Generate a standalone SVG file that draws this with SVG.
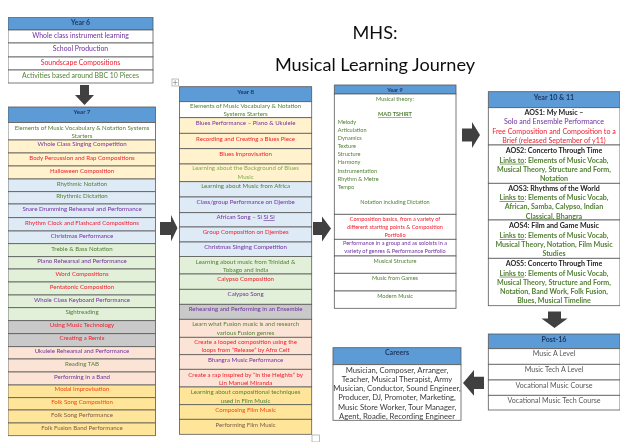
<svg xmlns="http://www.w3.org/2000/svg" width="630" height="447" viewBox="0 0 630 447">
<style>
text{font-family:Lato,"Open Sans","Liberation Sans",sans-serif;text-anchor:middle}
rect{stroke:#595959;stroke-width:.8}
.s7 text{font-size:6.1px}.s9 text{font-size:5.6px}.s6 text{font-size:6.9px}.s10 text{font-size:7.1px}.sc text{font-size:7.7px}
text.h{font-weight:700;fill:#1f3864}text.l{text-anchor:start}
text.b{font-weight:700;fill:#222}
.hd{fill:#5b9bd5}.w{fill:#fff}.o{fill:#fff2cc}.bl{fill:#deeaf6}.gn{fill:#e2efd9}.gy{fill:#c9c9c9}.pc{fill:#fbe4d5}.gd{fill:#ffe599}
text.p{fill:#7030a0}text.r{fill:#f01c2c}text.g{fill:#538135}text.lg{fill:#7fae4f}text.dr{fill:#ed4a10}text.br{fill:#7a5a4a}text.t{fill:#595959}text.k{fill:#3a3a3a}
.arrow{fill:#404040}
.title{font-size:18.1px;fill:#111}
.handle{fill:#fff;stroke:#a0a0a0;stroke-width:.7}
</style>
<defs><filter id="soft" x="0" y="0" width="100%" height="100%"><feGaussianBlur stdDeviation="0.3"/></filter></defs>
<g filter="url(#soft)">
<g id="title"><text class="title" x="375" y="38.500">MHS:</text><text class="title" x="375" y="71">Musical Learning Journey</text></g>

<g id="connectors" class="arrow">
<path d="M80 85H89V95H94L84.500 105L75 95H80Z"/>
<path d="M160 222H171V215L177.500 228L171 241.500V235H160Z"/>
<path d="M313 222H322V216.500L331 228.500L322 241.500V235H313Z"/>
<path d="M462 128.500H472V122L480 135L472 148V141.500H462Z"/>
<path d="M548 311.500H561V318.500H567.500L554.500 328L541.500 318.500H548Z"/>
<path d="M484 376.700H474V370L463 383L474 395.700V389H484Z"/>
</g>

<g id="year6" class="s6">
<rect class="hd" x="8" y="17" width="145" height="13"/>
<rect class="w" x="8" y="30" width="145" height="13"/><rect class="w" x="8" y="43" width="145" height="14"/><rect class="w" x="8" y="57" width="145" height="13"/><rect class="w" x="8" y="70" width="145" height="13"/>
<text class="h" x="80.500" y="25">Year 6</text>
<text class="p" x="80.500" y="38.200">Whole class instrument learning</text>
<text class="p" x="80.500" y="50.500">School Production</text>
<text class="r" x="80.500" y="65.200">Soundscape Compositions</text>
<text class="g" x="80.500" y="78">Activities based around BBC 10 Pieces</text>
</g>

<g id="year7" class="s7">
<rect class="hd" x="8" y="107" width="147.500" height="15.500"/>
<rect class="w" x="8" y="122.500" width="147.500" height="17.500"/>
<rect class="o" x="8" y="140" width="147.500" height="13"/><rect class="o" x="8" y="153" width="147.500" height="13"/><rect class="o" x="8" y="166" width="147.500" height="13"/>
<rect class="bl" x="8" y="179" width="147.500" height="12.700"/><rect class="bl" x="8" y="191.700" width="147.500" height="12.300"/><rect class="bl" x="8" y="204" width="147.500" height="13.700"/><rect class="bl" x="8" y="217.700" width="147.500" height="13.300"/><rect class="bl" x="8" y="231" width="147.500" height="12.700"/>
<rect class="gn" x="8" y="243.700" width="147.500" height="13"/><rect class="gn" x="8" y="256.700" width="147.500" height="12.300"/><rect class="gn" x="8" y="269" width="147.500" height="13"/><rect class="gn" x="8" y="282" width="147.500" height="13"/><rect class="gn" x="8" y="295" width="147.500" height="12.700"/><rect class="gn" x="8" y="307.700" width="147.500" height="13"/>
<rect class="gy" x="8" y="320.700" width="147.500" height="13"/><rect class="gy" x="8" y="333.700" width="147.500" height="13"/>
<rect class="pc" x="8" y="346.700" width="147.500" height="12.300"/><rect class="pc" x="8" y="359" width="147.500" height="13"/><rect class="pc" x="8" y="372" width="147.500" height="13"/>
<rect class="gd" x="8" y="385" width="147.500" height="12.700"/><rect class="gd" x="8" y="397.700" width="147.500" height="12.300"/><rect class="gd" x="8" y="410" width="147.500" height="13"/><rect class="gd" x="8" y="423" width="147.500" height="12.700"/>
<text class="h" x="82" y="114.300">Year 7</text>
<text class="g" x="82" y="129.700">Elements of Music Vocabulary &amp; Notation Systems</text>
<text class="g" x="82" y="137.700">Starters</text>
<text class="p" x="82" y="146.300">Whole Class Singing Competition</text>
<text class="r" x="82" y="159.700">Body Percussion and Rap Compositions</text>
<text class="r" x="82" y="172.700">Halloween Composition</text>
<text class="g" x="82" y="185.700">Rhythmic Notation</text>
<text class="g" x="82" y="198.300">Rhythmic Dictation</text>
<text class="p" x="82" y="211">Snare Drumming Rehearsal and Performance</text>
<text class="r" x="82" y="225">Rhythm Clock and Flashcard Compositions</text>
<text class="p" x="82" y="237.700">Christmas Performance</text>
<text class="g" x="82" y="250.700">Treble &amp; Bass Notation</text>
<text class="p" x="82" y="263.300">Piano Rehearsal and Performance</text>
<text class="r" x="82" y="276">Word Compositions</text>
<text class="r" x="82" y="288.700">Pentatonic Composition</text>
<text class="p" x="82" y="301.700">Whole Class Keyboard Performance</text>
<text class="g" x="82" y="314.300">Sightreading</text>
<text class="r" x="82" y="327">Using Music Technology</text>
<text class="r" x="82" y="340.300">Creating a Remix</text>
<text class="p" x="82" y="353.300">Ukulele Rehearsal and Performance</text>
<text class="g" x="82" y="366">Reading TAB</text>
<text class="p" x="82" y="378.700">Performing in a Band</text>
<text class="dr" x="82" y="391.300">Modal Improvisation</text>
<text class="dr" x="82" y="404.300">Folk Song Composition</text>
<text class="br" x="82" y="417">Folk Song Performance</text>
<text class="br" x="82" y="429.700">Folk Fusion Band Performance</text>
</g>

<g id="year8" class="s7">
<rect class="hd" x="179.500" y="86.700" width="132.200" height="15"/>
<rect class="w" x="179.500" y="101.700" width="132.200" height="16"/>
<rect class="o" x="179.500" y="117.700" width="132.200" height="15.600"/><rect class="o" x="179.500" y="133.300" width="132.200" height="15.400"/><rect class="o" x="179.500" y="148.700" width="132.200" height="15.300"/><rect class="o" x="179.500" y="164" width="132.200" height="17.700"/>
<rect class="bl" x="179.500" y="181.700" width="132.200" height="15.300"/><rect class="bl" x="179.500" y="197" width="132.200" height="15.700"/><rect class="bl" x="179.500" y="212.700" width="132.200" height="14.300"/><rect class="bl" x="179.500" y="227" width="132.200" height="15"/><rect class="bl" x="179.500" y="242" width="132.200" height="14.500"/>
<rect class="gn" x="179.500" y="256.500" width="132.200" height="17.500"/><rect class="gn" x="179.500" y="274" width="132.200" height="15.300"/><rect class="gn" x="179.500" y="289.300" width="132.200" height="15"/>
<rect class="gy" x="179.500" y="304.300" width="132.200" height="15"/>
<rect class="pc" x="179.500" y="319.300" width="132.200" height="18"/><rect class="pc" x="179.500" y="337.300" width="132.200" height="17.400"/><rect class="pc" x="179.500" y="354.700" width="132.200" height="14.600"/><rect class="pc" x="179.500" y="369.300" width="132.200" height="17.700"/>
<rect class="gd" x="179.500" y="387" width="132.200" height="17.700"/><rect class="gd" x="179.500" y="404.700" width="132.200" height="14.600"/><rect class="gd" x="179.500" y="419.300" width="132.200" height="15"/>
<text class="h" x="245.600" y="93.700">Year 8</text>
<text class="g" x="245.600" y="107.700">Elements of Music Vocabulary &amp; Notation</text>
<text class="g" x="245.600" y="115.700">Systems Starters</text>
<text class="p" x="245.600" y="124.700">Blues Performance – Piano &amp; Ukulele</text>
<text class="r" x="245.600" y="140.700">Recording and Creating a Blues Piece</text>
<text class="r" x="245.600" y="156">Blues Improvisation</text>
<text class="lg" x="245.600" y="170.300">Learning about the Background of Blues</text>
<text class="lg" x="245.600" y="179">Music</text>
<text class="g" x="245.600" y="188.300">Learning about Music from Africa</text>
<text class="p" x="245.600" y="204.300">Class/group Performance on Djembe</text>
<text class="p" x="245.600" y="219">African Song – Si <tspan text-decoration="underline">Si Si</tspan></text>
<text class="r" x="245.600" y="234">Group Composition on Djembes</text>
<text class="p" x="245.600" y="249">Christmas Singing Competition</text>
<text class="g" x="245.600" y="263.700">Learning about music from Trinidad &amp;</text>
<text class="g" x="245.600" y="272">Tobago and India</text>
<text class="r" x="245.600" y="281.300">Calypso Composition</text>
<text class="p" x="245.600" y="296.300">Calypso Song</text>
<text class="p" x="245.600" y="311">Rehearsing and Performing in an Ensemble</text>
<text class="g" x="245.600" y="326">Learn what Fusion music is and research</text>
<text class="g" x="245.600" y="334.700">various Fusion genres</text>
<text class="r" x="245.600" y="344">Create a looped composition using the</text>
<text class="r" x="245.600" y="352.300">loops from “Release” by Afro Celt</text>
<text class="p" x="245.600" y="361.700">Bhangra Music Performance</text>
<text class="r" x="245.600" y="376.700">Create a rap inspired by “In the Heights” by</text>
<text class="r" x="245.600" y="385">Lin Manuel Miranda</text>
<text class="g" x="245.600" y="394.300">Learning about compositional techniques</text>
<text class="g" x="245.600" y="402.700">used in Film Music</text>
<text class="dr" x="245.600" y="411.700">Composing Film Music</text>
<text class="br" x="245.600" y="426.700">Performing Film Music</text>
</g>

<g id="year9" class="s9">
<rect class="hd" x="334.300" y="85" width="121.700" height="9"/>
<rect class="w" x="334.300" y="94" width="121.700" height="120.300"/><rect class="w" x="334.300" y="214.300" width="121.700" height="25"/><rect class="w" x="334.300" y="239.300" width="121.700" height="16.700"/><rect class="w" x="334.300" y="256" width="121.700" height="17.300"/><rect class="w" x="334.300" y="273.300" width="121.700" height="17.700"/><rect class="w" x="334.300" y="291" width="121.700" height="17.300"/>
<text class="h" x="395" y="91.700">Year 9</text>
<text class="g" x="395" y="100.600">Musical theory:</text>
<text class="g" x="395" y="116.200" font-weight="700" text-decoration="underline">MAD TSHIRT</text>
<text class="g l" x="337.700" y="124.200">Melody</text>
<text class="g l" x="337.700" y="132.200">Articulation</text>
<text class="g l" x="337.700" y="140.200">Dynamics</text>
<text class="g l" x="337.700" y="148.200">Texture</text>
<text class="g l" x="337.700" y="156.200">Structure</text>
<text class="g l" x="337.700" y="164.200">Harmony</text>
<text class="g l" x="337.700" y="172.600">Instrumentation</text>
<text class="g l" x="337.700" y="180.600">Rhythm &amp; Metre</text>
<text class="g l" x="337.700" y="188.900">Tempo</text>
<text class="g" x="395" y="204.200">Notation including Dictation</text>
<text class="r" x="395" y="221.200">Composition basics, from a variety of</text>
<text class="r" x="395" y="229.200">different starting points &amp; Composition</text>
<text class="r" x="395" y="237.200">Portfolio</text>
<text class="p" x="395" y="244.900">Performance in a group and as soloists in a</text>
<text class="p" x="395" y="253.200">variety of genres &amp; Performance Portfolio</text>
<text class="g" x="395" y="262.600">Musical Structure</text>
<text class="g" x="395" y="280.200">Music from Games</text>
<text class="g" x="395" y="297.600">Modern Music</text>
</g>

<g id="year10-11" class="s10">
<rect class="hd" x="488.300" y="91.700" width="131.700" height="16"/>
<rect class="w" x="488.300" y="107.700" width="131.700" height="37.300"/><rect class="w" x="488.300" y="145" width="131.700" height="38.300"/><rect class="w" x="488.300" y="183.300" width="131.700" height="36.700"/><rect class="w" x="488.300" y="220" width="131.700" height="38.300"/><rect class="w" x="488.300" y="258.300" width="131.700" height="47.400"/>
<text class="h" x="554" y="99.500">Year 10 &amp; 11</text>
<text class="b" x="554" y="115.400">AOS1: My Music –</text>
<text class="p" x="554" y="124.400">Solo and Ensemble Performance</text>
<text class="r" x="554" y="133.700">Free Composition and Composition to a</text>
<text class="r" x="554" y="143.100">Brief (released September of y11)</text>
<text class="b" x="554" y="153.100">AOS2: Concerto Through Time</text>
<text class="g" x="554" y="162.700" font-weight="700"><tspan text-decoration="underline">Links to</tspan>: Elements of Music Vocab,</text>
<text class="g" x="554" y="172.100" font-weight="700">Musical Theory, Structure and Form,</text>
<text class="g" x="554" y="181.100" font-weight="700">Notation</text>
<text class="b" x="554" y="190.700">AOS3: Rhythms of the World</text>
<text class="g" x="554" y="200.100" font-weight="700"><tspan text-decoration="underline">Links to</tspan>: Elements of Music Vocab,</text>
<text class="g" x="554" y="209.400" font-weight="700">African, Samba, Calypso, Indian</text>
<text class="g" x="554" y="218.700" font-weight="700">Classical, Bhangra</text>
<text class="b" x="554" y="228.100">AOS4: Film and Game Music</text>
<text class="g" x="554" y="238.100" font-weight="700"><tspan text-decoration="underline">Links to</tspan>: Elements of Music Vocab,</text>
<text class="g" x="554" y="246.700" font-weight="700">Musical Theory, Notation, Film Music</text>
<text class="g" x="554" y="255.700" font-weight="700">Studies</text>
<text class="b" x="554" y="266.100">AOS5: Concerto Through Time</text>
<text class="g" x="554" y="275.700" font-weight="700"><tspan text-decoration="underline">Links to</tspan>: Elements of Music Vocab,</text>
<text class="g" x="554" y="285.100" font-weight="700">Musical Theory, Structure and Form,</text>
<text class="g" x="554" y="294.100" font-weight="700">Notation, Band Work, Folk Fusion,</text>
<text class="g" x="554" y="303.400" font-weight="700">Blues, Musical Timeline</text>
</g>

<g id="post16" class="s10">
<rect class="hd" x="488.300" y="334" width="131.700" height="14.700"/>
<rect class="w" x="488.300" y="348.700" width="131.700" height="15.600"/><rect class="w" x="488.300" y="364.300" width="131.700" height="15.700"/><rect class="w" x="488.300" y="380" width="131.700" height="15.300"/><rect class="w" x="488.300" y="395.300" width="131.700" height="14.700"/>
<text class="h" x="554" y="341.800">Post-16</text>
<text class="t" x="554" y="356.400">Music A Level</text>
<text class="t" x="554" y="371.700">Music Tech A Level</text>
<text class="t" x="554" y="388.100">Vocational Music Course</text>
<text class="t" x="554" y="403.400">Vocational Music Tech Course</text>
</g>

<g id="careers" class="sc">
<rect class="hd" x="333" y="347.700" width="128" height="17"/>
<rect class="w" x="333" y="364.700" width="128" height="55.600"/>
<text class="h" x="397" y="355.400" style="font-size:7.100px">Careers</text>
<text class="k" x="397" y="372.700">Musician, Composer, Arranger,</text>
<text class="k" x="397" y="381.700">Teacher, Musical Therapist, Army</text>
<text class="k" x="397" y="391.100">Musician, Conductor, Sound Engineer,</text>
<text class="k" x="397" y="400.100">Producer, DJ, Promoter, Marketing,</text>
<text class="k" x="397" y="409.700">Music Store Worker, Tour Manager,</text>
<text class="k" x="397" y="418.700">Agent, Roadie, Recording Engineer</text>
</g>

<g id="handles">
<rect class="handle" x="172" y="79" width="6.500" height="7"/>
<path d="M175.200 80V85M173 82.500H177.500" stroke="#777" stroke-width=".6" fill="none"/>
<rect class="handle" x="312" y="435" width="7.500" height="7"/>
</g>
</g>
</svg>
